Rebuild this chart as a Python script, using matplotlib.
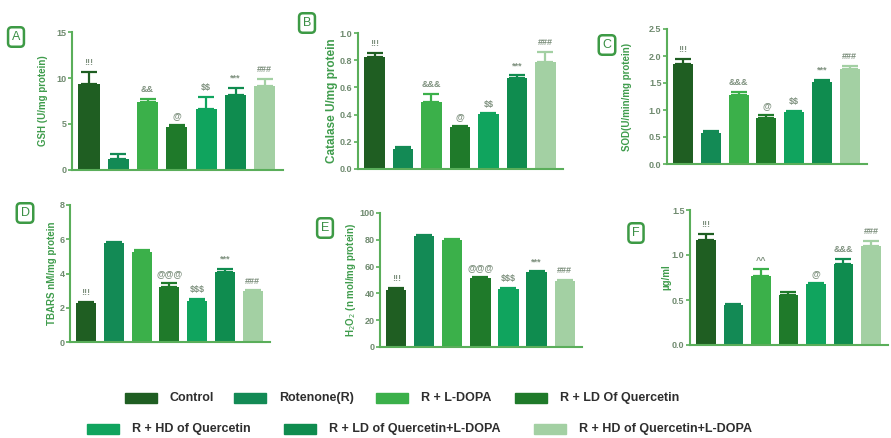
import matplotlib
matplotlib.use("Agg")
import matplotlib.pyplot as plt
from matplotlib.patches import Rectangle
import numpy as np

plt.rcParams['font.family'] = ['Liberation Sans', 'DejaVu Sans']

groups = ["Control", "Rotenone(R)", "R + L-DOPA", "R + LD Of Quercetin",
          "R + HD of Quercetin", "R + LD of Quercetin+L-DOPA", "R + HD of Quercetin+L-DOPA"]
colors = ["#1f5e22", "#138a55", "#3bb04a", "#1f7a2a", "#10a45e", "#0f8c4f", "#a3d0a3"]

gsh = [9.3, 1.2, 7.4, 4.7, 6.6, 8.2, 9.1]
gsh_err = [1.35, 0.5, 0.3, 0.15, 1.35, 0.75, 0.8]
gsh_sig = ["!!!", "", "&&", "@", "$$", "***", "###"]

cat = [0.82, 0.15, 0.495, 0.31, 0.404, 0.67, 0.79]
cat_err = [0.035, 0.015, 0.055, 0.005, 0.005, 0.02, 0.07]
cat_sig = ["!!!", "", "&&&", "@", "$$", "***", "###"]

sod = [1.86, 0.57, 1.28, 0.85, 0.97, 1.51, 1.76]
sod_err = [0.08, 0.04, 0.06, 0.05, 0.02, 0.05, 0.05]
sod_sig = ["!!!", "", "&&&", "@", "$$", "***", "###"]

tbars = [2.3, 5.77, 5.25, 3.2, 2.38, 4.08, 2.98]
tbars_err = [0.06, 0.08, 0.13, 0.25, 0.16, 0.2, 0.03]
tbars_sig = ["!!!", "", "", "@@@", "$$$", "***", "###"]

h2o2 = [42.6, 83.0, 79.7, 51.2, 43.2, 56.0, 49.5]
h2o2_err = [1.6, 0.8, 0.6, 0.9, 1.2, 0.6, 0.3]
h2o2_sig = ["!!!", "", "", "@@@", "$$$", "***", "###"]

dop = [1.17, 0.44, 0.77, 0.556, 0.68, 0.9, 1.1]
dop_err = [0.06, 0.02, 0.07, 0.035, 0.01, 0.055, 0.055]
dop_sig = ["!!!", "", "^^", "", "@", "&&&", "###"]

panels = [
    ("A", gsh, gsh_err, gsh_sig, "GSH (U/mg protein)", [0, 5, 10, 15], "{:.0f}"),
    ("B", cat, cat_err, cat_sig, "Catalase U/mg protein", [0, 0.2, 0.4, 0.6, 0.8, 1.0], "{:.1f}"),
    ("C", sod, sod_err, sod_sig, "SOD(U/min/mg protein)", [0, 0.5, 1.0, 1.5, 2.0, 2.5], "{:.1f}"),
    ("D", tbars, tbars_err, tbars_sig, "TBARS nM/mg protein", [0, 2, 4, 6, 8], "{:.0f}"),
    ("E", h2o2, h2o2_err, h2o2_sig, r"H$_2$O$_2$ (n mol/mg protein)", [0, 20, 40, 60, 80, 100], "{:.0f}"),
    ("F", dop, dop_err, dop_sig, "µg/ml", [0, 0.5, 1.0, 1.5], "{:.1f}"),
]

W, H = 891, 438
fig = plt.figure(figsize=(W / 100, H / 100), dpi=100)

# axes boxes in pixels: left, right, top, bottom
boxes = [(72, 283, 32, 170), (358, 563, 33, 169), (667, 867, 29, 164),
         (70, 270, 205, 342), (380, 582, 213, 347), (690, 888, 210, 345)]
letter_pos = [(16, 37), (307, 23), (607, 45), (25, 213), (325, 228), (636, 233)]
label_pad = [6, 1, 12, 2, 1, 0]
label_size = [7, 8.5, 7, 7, 7, 7]

axis_col = "#5aae5a"
tick_col = "#6f8a6f"
lab_col = "#3f9c4c"
sig_col = "#7f917f"

for (letter, vals, errs, sigs, ylabel, yt, fmt), (l, r, t, b), (lx, ly), lp, ls in zip(
        panels, boxes, letter_pos, label_pad, label_size):
    ax = fig.add_axes([l / W, 1 - b / H, (r - l) / W, (b - t) / H])
    x = np.arange(len(vals))
    ax.bar(x, vals, width=0.72, color=colors, zorder=2)
    for xi, v, e, c in zip(x, vals, errs, colors):
        ax.errorbar(xi, v, yerr=[[0], [e]], fmt='none', ecolor=c, elinewidth=1.6,
                    capsize=6, capthick=1.6, zorder=3)
    for xi, v, e, s in zip(x, vals, errs, sigs):
        if s:
            ax.annotate(s, (xi, v + e), xytext=(0, 3.5), textcoords="offset points",
                        ha="center", va="bottom", fontsize=6.5, color=sig_col,
                        fontweight="bold", parse_math=False)
    ax.set_xlim(-0.58, 6.62)
    ax.set_ylim(yt[0], yt[-1])
    ax.set_yticks(yt)
    ax.set_yticklabels([fmt.format(v) for v in yt])
    ax.set_xticks([])
    for s in ["top", "right"]:
        ax.spines[s].set_visible(False)
    for s in ["left", "bottom"]:
        ax.spines[s].set_color(axis_col)
        ax.spines[s].set_linewidth(1.5)
    ax.tick_params(axis="y", colors=axis_col, labelcolor=tick_col, labelsize=6.5,
                   length=3, width=1.2, pad=1)
    for tl in ax.get_yticklabels():
        tl.set_fontweight("bold")
    ax.set_ylabel(ylabel, fontsize=ls, color=lab_col, fontweight="bold", labelpad=lp)
    fig.text(lx / W, 1 - ly / H, letter, ha="center", va="center", fontsize=9,
             color="#3a8f45",
             bbox=dict(boxstyle="round,pad=0.3", fc="white", ec="#3d9a45", lw=1.8))

# legend (layout positions in pixels: patch left, row centre y, group index)
leg_rows = [
    [(125, 398, 0), (234, 398, 1), (376, 398, 2), (515, 398, 3)],
    [(87, 429, 4), (284, 429, 5), (534, 429, 6)],
]
for row in leg_rows:
    for px, py, i in row:
        pw = 32
        fig.patches.append(Rectangle((px / W, 1 - (py + 5) / H), pw / W, 10 / H,
                                     transform=fig.transFigure, color=colors[i]))
        fig.text((px + pw + 13) / W, 1 - py / H, groups[i], ha="left", va="center",
                 fontsize=9, fontweight="bold", color="#2e2e2e")

fig.savefig("out.png", dpi=100)
